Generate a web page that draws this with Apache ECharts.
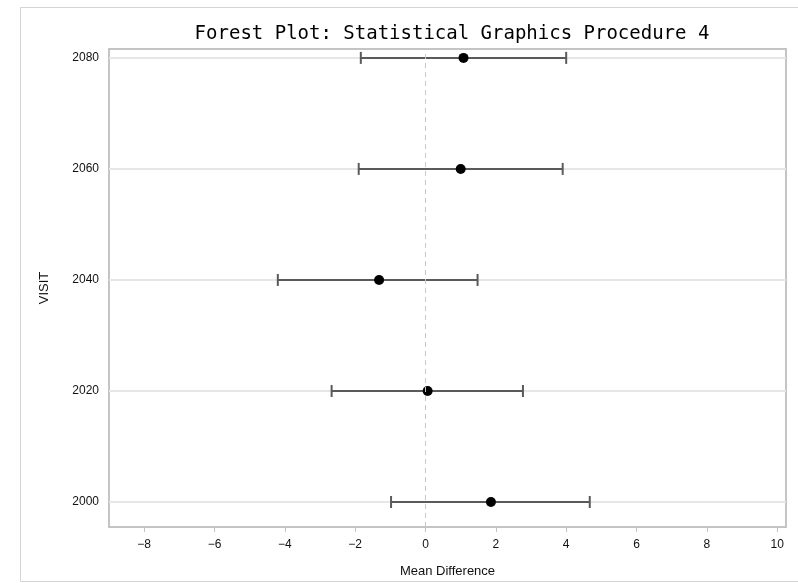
<!DOCTYPE html>
<html>
<head>
<meta charset="utf-8">
<script src="https://cdn.jsdelivr.net/npm/echarts@6/dist/echarts.min.js"></script>
<style>
  html, body { margin: 0; padding: 0; background: #fff; }
  #chart { width: 798px; height: 583px; }
</style>
</head>
<body>
<div id="chart"></div>
<script>
// forest plot data
const visits = [2000, 2020, 2040, 2060, 2080];
const meanDiff = [1.86, 0.06, -1.32, 1.0, 1.08];
const lowerCL = [-0.98, -2.67, -4.2, -1.9, -1.84];
const upperCL = [4.67, 2.77, 1.48, 3.9, 4.0];
const xTicks = [-8, -6, -4, -2, 0, 2, 4, 6, 8, 10];

const chart = echarts.init(document.getElementById("chart"));

const barData = visits.map((v, i) => [lowerCL[i], upperCL[i], v]);
const dotData = visits.map((v, i) => [meanDiff[i], v]);

const option = {
  animation: false,
  backgroundColor: "#fff",
  title: {
    text: "Forest Plot: Statistical Graphics Procedure 4",
    left: 447,
    textAlign: "center",
    top: 20,
    textStyle: {
      fontFamily: "DejaVu Sans Mono",
      fontSize: 19,
      fontWeight: "normal",
      color: "#000",
    },
  },
  graphic: [
    {
      type: "rect",
      shape: { x: 20.5, y: 7.5, width: 800, height: 574 },
      style: { fill: "none", stroke: "#d4d4d4", lineWidth: 1 },
      silent: true,
    },
  ],
  grid: {
    left: 109,
    right: 12,
    top: 49,
    bottom: 56,
    show: true,
    borderColor: "#c4c4c4",
    borderWidth: 2,
  },
  xAxis: {
    type: "value",
    min: -9,
    max: 10.25,
    name: "Mean Difference",
    nameLocation: "middle",
    nameGap: 38,
    nameTextStyle: { fontFamily: "Liberation Sans", fontSize: 13, color: "#111" },
    axisLine: { show: false },
    axisTick: {
      show: true,
      length: 5,
      customValues: xTicks,
      lineStyle: { color: "#c4c4c4", width: 1 },
    },
    axisLabel: {
      customValues: xTicks,
      margin: 12,
      fontFamily: "Liberation Sans",
      fontSize: 12,
      color: "#111",
      formatter: (v) => (v < 0 ? "\u2212" + Math.abs(v) : String(v)),
    },
    splitLine: { show: false },
  },
  yAxis: {
    type: "value",
    min: 1995.5,
    max: 2081.6,
    name: "VISIT",
    nameLocation: "middle",
    nameGap: 58,
    nameRotate: 90,
    nameTextStyle: { fontFamily: "Liberation Sans", fontSize: 13, color: "#111" },
    axisLine: { show: false },
    axisTick: {
      show: true,
      length: 6,
      customValues: visits,
      lineStyle: { color: "#c4c4c4", width: 1 },
    },
    axisLabel: {
      customValues: visits,
      margin: 10,
      fontFamily: "Liberation Sans",
      fontSize: 12,
      color: "#111",
      formatter: (v) => String(v),
    },
    splitLine: { show: false },
  },
  series: [
    {
      // horizontal reference lines at each visit
      type: "custom",
      silent: true,
      z: 1,
      data: visits.map((v) => [v]),
      renderItem: (params, api) => {
        const y = api.coord([0, api.value(0)])[1];
        const cs = params.coordSys;
        return {
          type: "line",
          shape: { x1: cs.x, y1: y, x2: cs.x + cs.width, y2: y },
          style: { stroke: "#e6e6e6", lineWidth: 2 },
        };
      },
      encode: { y: 0 },
    },
    {
      type: "scatter",
      silent: true,
      data: [],
      markLine: {
        silent: true,
        symbol: "none",
        label: { show: false },
        lineStyle: { color: "#c8c8c8", type: [5, 4], width: 1 },
        data: [{ xAxis: 0 }],
      },
    },
    {
      type: "custom",
      z: 3,
      data: barData,
      encode: { x: [0, 1], y: 2 },
      renderItem: (params, api) => {
        const lo = api.coord([api.value(0), api.value(2)]);
        const hi = api.coord([api.value(1), api.value(2)]);
        const h = 6;
        const st = { stroke: "#5a5a5a", lineWidth: 2 };
        return {
          type: "group",
          children: [
            { type: "line", shape: { x1: lo[0], y1: lo[1], x2: hi[0], y2: hi[1] }, style: st },
            { type: "line", shape: { x1: lo[0], y1: lo[1] - h, x2: lo[0], y2: lo[1] + h }, style: st },
            { type: "line", shape: { x1: hi[0], y1: hi[1] - h, x2: hi[0], y2: hi[1] + h }, style: st },
          ],
        };
      },
    },
    {
      type: "scatter",
      z: 4,
      symbol: "circle",
      symbolSize: 10,
      itemStyle: { color: "#000", opacity: 1 },
      data: dotData,
    },
  ],
};

chart.setOption(option);
</script>
</body>
</html>
